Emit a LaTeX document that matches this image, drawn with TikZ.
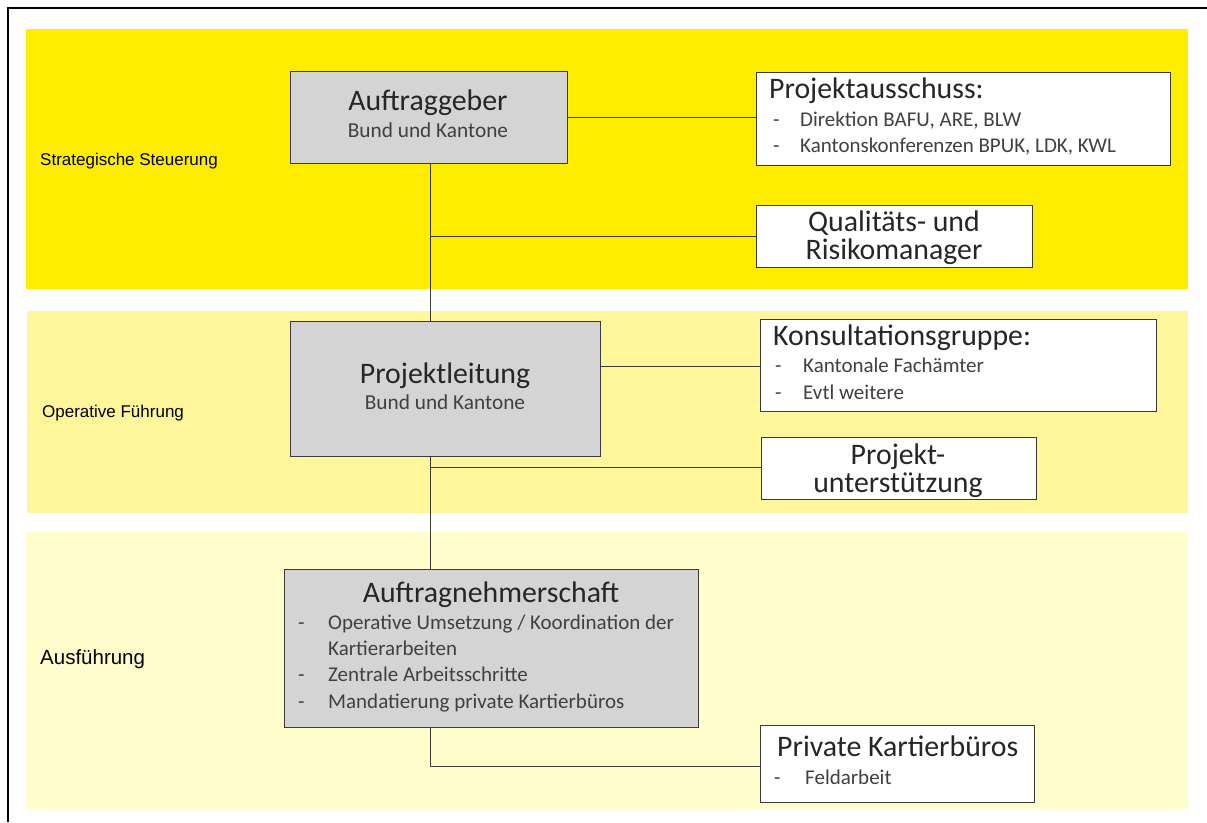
\documentclass[tikz,border=0pt]{standalone}
\usepackage{fontspec}
\setmainfont{Carlito}
\newfontfamily\arialfont{Liberation Sans}
\definecolor{bandA}{HTML}{FFED00}
\definecolor{bandB}{HTML}{FFF59B}
\definecolor{bandC}{HTML}{FFFDCC}
\definecolor{boxgray}{HTML}{D4D4D4}
\definecolor{titletext}{HTML}{262626}
\definecolor{itemtext}{HTML}{404040}
\definecolor{linecol}{HTML}{3A3A3A}
\begin{document}
\begin{tikzpicture}[x=1pt,y=-1pt,
  band/.style={fill=#1,draw=none},
  graybox/.style={draw=linecol,line width=0.9pt,fill=boxgray,inner sep=0pt},
  whitebox/.style={draw=linecol,line width=0.9pt,fill=white,inner sep=0pt},
  ttl/.style={font=\fontsize{29.8}{32}\selectfont,text=titletext,inner sep=0pt},
  twoline/.style={font=\fontsize{29.8}{28}\selectfont,text=titletext,inner sep=0pt,align=center},
  sub/.style={font=\fontsize{21.3}{23}\selectfont,text=itemtext,inner sep=0pt},
  itm/.style={font=\fontsize{21}{23}\selectfont,text=itemtext,inner sep=0pt,anchor=base west},
  lvl/.style={font=\arialfont\fontsize{17}{19}\selectfont,text=black,inner sep=0pt,anchor=base west},
  conn/.style={draw=linecol,line width=0.9pt}
]
\useasboundingbox (0,0) rectangle (1207,822);
\fill[white] (0,0) rectangle (1207,822);
% frame
\draw[black,line width=1.4pt] (8,822) -- (8,8) -- (1207,8);
% bands
\fill[band=bandA] (26,29) rectangle (1188,289);
\fill[band=bandB] (27,311) rectangle (1188,513);
\fill[band=bandC] (26,532) rectangle (1188,809);
% level labels
\node[lvl] (l1) at (40,165) {Strategische Steuerung};
\node[lvl] (l2) at (42,417) {Operative Führung};
\node[lvl,font=\arialfont\fontsize{20.5}{22}\selectfont] (l3) at (40,664) {Ausführung};
% boxes
\node[graybox,minimum width=277pt,minimum height=92pt] (ag) at (428.5,117) {};
\node[whitebox,minimum width=414pt,minimum height=93pt] (pa) at (963,118.5) {};
\node[whitebox,minimum width=276pt,minimum height=62pt] (qr) at (894,236) {};
\node[graybox,minimum width=310pt,minimum height=135pt] (pl) at (445,388.5) {};
\node[whitebox,minimum width=396pt,minimum height=92pt] (kg) at (958,365) {};
\node[whitebox,minimum width=275pt,minimum height=62pt] (pu) at (898.5,468) {};
\node[graybox,minimum width=414pt,minimum height=158pt] (an) at (491,648) {};
\node[whitebox,minimum width=274pt,minimum height=77pt] (pk) at (897,763.5) {};
% connectors
\coordinate (j1) at (430,236);
\coordinate (j2) at (430,467);
\draw[conn] (ag.east |- 0,117) -- (pa.west |- 0,117);
\draw[conn] (ag.south -| j1) -- (pl.north -| j1);
\draw[conn] (j1) -- (qr.west |- j1);
\draw[conn] (pl.east |- 0,366) -- (kg.west |- 0,366);
\draw[conn] (pl.south -| j2) -- (an.north -| j2);
\draw[conn] (j2) -- (pu.west |- j2);
\coordinate (j3) at (430,766);
\draw[conn] (an.south -| j3) -- (j3) -- (pk.west |- j3);
% texts: Auftraggeber
\node[ttl,anchor=base] (agt) at (428,110) {Auftraggeber};
\node[sub,anchor=base] (ags) at (428,137) {Bund und Kantone};
% Projektausschuss
\node[ttl,anchor=base west] (pat) at (769,98) {Projektausschuss:};
\node[itm] (pad1) at (773,126) {-};
\node[itm] (pai1) at (800,126) {Direktion BAFU, ARE, BLW};
\node[itm] (pad2) at (773,152) {-};
\node[itm] (pai2) at (800,152) {Kantonskonferenzen BPUK, LDK, KWL};
% Qualitaets (base = last line)
\node[twoline,anchor=base] (qrt) at (894,259) {Qualitäts- und\\Risikomanager};
% Projektleitung
\node[ttl,anchor=base] (plt) at (445,383) {Projektleitung};
\node[sub,anchor=base] (pls) at (445,409) {Bund und Kantone};
% Konsultationsgruppe
\node[ttl,anchor=base west] (kgt) at (773,345) {Konsultationsgruppe:};
\node[itm] (kgd1) at (775,372) {-};
\node[itm] (kgi1) at (803,372) {Kantonale Fachämter};
\node[itm] (kgd2) at (775,399) {-};
\node[itm] (kgi2) at (803,399) {Evtl weitere};
% Projektunterstuetzung (base = last line)
\node[twoline,anchor=base] (put) at (898,492) {Projekt-\\unterstützung};
% Auftragnehmerschaft
\node[ttl,anchor=base] (ant) at (491,602) {Auftragnehmerschaft};
\node[itm] (and1) at (298,629) {-};
\node[itm] (ani1) at (328,629) {Operative Umsetzung / Koordination der};
\node[itm] (ani1b) at (328,655) {Kartierarbeiten};
\node[itm] (and2) at (298,681) {-};
\node[itm] (ani2) at (328,681) {Zentrale Arbeitsschritte};
\node[itm] (and3) at (298,708) {-};
\node[itm] (ani3) at (328,708) {Mandatierung private Kartierbüros};
% Private Kartierbueros
\node[ttl,anchor=base west] (pkt) at (777,756) {Private Kartierbüros};
\node[itm] (pkd1) at (774,784) {-};
\node[itm] (pki1) at (805,784) {Feldarbeit};
\end{tikzpicture}
\end{document}
